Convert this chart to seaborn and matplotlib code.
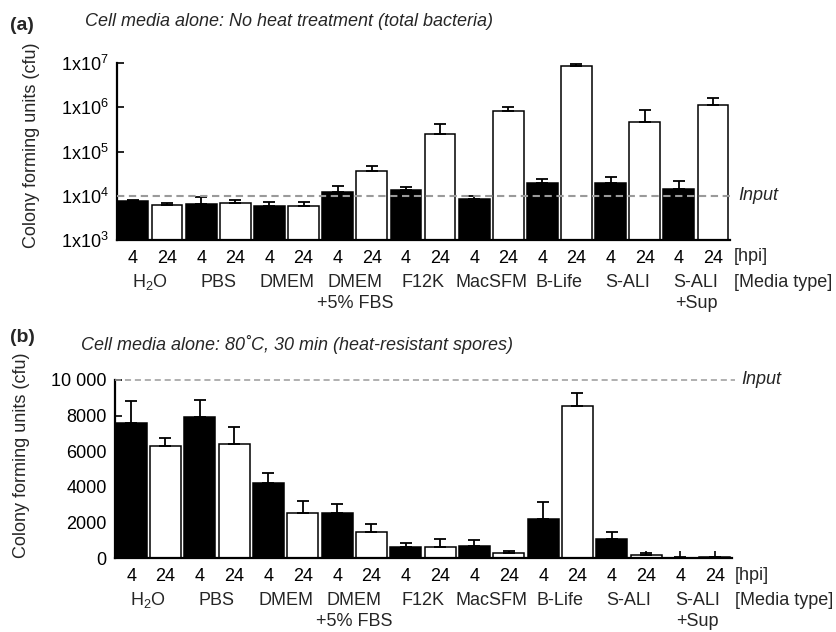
import matplotlib
matplotlib.use("Agg")
import matplotlib.pyplot as plt
from matplotlib import transforms
from matplotlib.ticker import NullLocator
import seaborn as sns
import numpy as np
import pandas as pd

# ---------------- data ----------------
groups = ["H$_2$O", "PBS", "DMEM", "DMEM\n+5% FBS", "F12K", "MacSFM",
          "B-Life", "S-ALI", "S-ALI\n+Sup"]
hpi = ["4", "24"]

# panel (a): total bacteria (cfu), log scale
a_vals = [7600, 6200, 6500, 6700, 6000, 6000, 12200, 35600, 13300, 250000,
          8400, 810000, 19800, 8.5e6, 19800, 458000, 14200, 1.1e6]
a_err = [400, 700, 3000, 1300, 1100, 1300, 4700, 11400, 2700, 170000,
         1600, 220000, 4600, 1.0e6, 7200, 412000, 7300, 560000]

# panel (b): heat-resistant spores (cfu)
b_vals = [7570, 6300, 7940, 6410, 4240, 2560, 2560, 1460, 620, 640,
          690, 280, 2200, 8560, 1100, 170, 20, 60]
b_err = [1270, 470, 920, 950, 530, 670, 480, 440, 260, 420,
         340, 150, 980, 690, 390, 140, 30, 20]

a_input = 1e4
b_input = 10000
a_yticks = [1e3, 1e4, 1e5, 1e6, 1e7]
a_yticklabels = ["1x10$^3$", "1x10$^4$", "1x10$^5$", "1x10$^6$", "1x10$^7$"]
b_yticks = [0, 2000, 4000, 6000, 8000, 10000]
b_yticklabels = ["0", "2000", "4000", "6000", "8000", "10 000"]

title_a = "Cell media alone: No heat treatment (total bacteria)"
title_b = "Cell media alone: 80˚C, 30 min (heat-resistant spores)"
ylab = "Colony forming units (cfu)"

# ---------------- style ----------------
sns.set_style("ticks")
plt.rcParams["font.family"] = ["Liberation Sans", "DejaVu Sans"]
plt.rcParams["mathtext.fontset"] = "custom"
plt.rcParams["mathtext.rm"] = "Liberation Sans"
plt.rcParams["mathtext.it"] = "Liberation Sans:italic"
plt.rcParams["mathtext.bf"] = "Liberation Sans:bold"
plt.rcParams["mathtext.default"] = "regular"

FS = 13
W, H = 836, 632
fig = plt.figure(figsize=(W / 100, H / 100), dpi=100)

ax_a = fig.add_axes([117 / W, 1 - 240 / H, 613 / W, 177 / H])
ax_b = fig.add_axes([115 / W, 1 - 558.3 / H, 617 / W, 178.3 / H])


def draw_panel(ax, vals, errs, log, yticks, yticklabels, ylim, inp, dash, dlw):
    bars = [f"{g}|{h}" for g in groups for h in hpi]
    df = pd.DataFrame({"bar": bars, "hpi": hpi * len(groups), "cfu": vals})
    if log:
        ax.set_yscale("log")
    sns.barplot(data=df, x="bar", y="cfu", hue="hpi", order=bars,
                hue_order=hpi, palette={"4": "black", "24": "white"},
                dodge=False, width=0.9, edgecolor="black", linewidth=1.1,
                errorbar=None, legend=False, ax=ax)
    x = np.arange(len(vals))
    ax.errorbar(x, vals, yerr=[np.zeros(len(vals)), errs], fmt="none",
                ecolor="black", elinewidth=1.3, capsize=4.5, capthick=1.3,
                zorder=3)
    ax.axhline(inp, color="#9a9a9a", ls=(0, dash), lw=dlw, zorder=4,
               clip_on=False, xmax=1.005)
    ax.set_xlim(-0.47, len(vals) - 0.5)
    ax.set_ylim(*ylim)
    ax.set_yticks(yticks)
    ax.set_yticklabels(yticklabels)
    if log:
        ax.yaxis.set_minor_locator(NullLocator())
    ax.set_xticks(x)
    ax.set_xticklabels(hpi * len(groups))
    ax.set_xlabel("")
    ax.set_ylabel("")
    ax.tick_params(axis="both", direction="in", length=5, width=1.2,
                   labelsize=FS, color="black", labelcolor="black")
    ax.tick_params(axis="x", pad=7)
    ax.tick_params(axis="y", pad=6)
    for s in ["top", "right"]:
        ax.spines[s].set_visible(False)
    for s in ["left", "bottom"]:
        ax.spines[s].set_linewidth(1.6)
        ax.spines[s].set_color("black")
    # media type labels under each pair of bars (one baseline per line)
    blend = transforms.blended_transform_factory(ax.transData, ax.transAxes)
    for i, g in enumerate(groups):
        for j, line in enumerate(g.split("\n")):
            tr = transforms.offset_copy(blend, fig=fig, y=-(47 + 21 * j),
                                        units="dots")
            ax.text(2 * i + 0.5, 0, line, transform=tr, ha="center",
                    va="baseline", fontsize=FS)


draw_panel(ax_a, a_vals, a_err, True, a_yticks, a_yticklabels, (1e3, 1e7),
           a_input, (3.5, 2.2), 1.5)
draw_panel(ax_b, b_vals, b_err, False, b_yticks, b_yticklabels, (0, 10000),
           b_input, (4, 2.5), 1.1)

# side labels
fig.text(738 / W, 1 - 195 / H, "Input", style="italic", fontsize=FS, va="center")
fig.text(741 / W, 1 - 380 / H, "Input", style="italic", fontsize=FS, va="center")
fig.text(734 / W, 1 - 257 / H, "[hpi]", fontsize=FS, va="center")
fig.text(734 / W, 1 - 287 / H, "[Media type]", fontsize=FS, va="baseline")
fig.text(735 / W, 1 - 575 / H, "[hpi]", fontsize=FS, va="center")
fig.text(735 / W, 1 - 605.3 / H, "[Media type]", fontsize=FS, va="baseline")

# titles
fig.text(10 / W, 1 - 25 / H, "(a)", fontsize=14, weight="bold", va="center")
fig.text(85 / W, 1 - 22 / H, title_a, fontsize=FS, style="italic", va="center")
fig.text(10 / W, 1 - 338 / H, "(b)", fontsize=14, weight="bold", va="center")
fig.text(81 / W, 1 - 344 / H, title_b, fontsize=FS, style="italic", va="center")

# y labels
fig.text(32 / W, 1 - 145 / H, ylab, rotation=90, fontsize=FS, ha="center", va="center")
fig.text(22 / W, 1 - 455 / H, ylab, rotation=90, fontsize=FS, ha="center", va="center")

fig.savefig("out.png", dpi=100)
